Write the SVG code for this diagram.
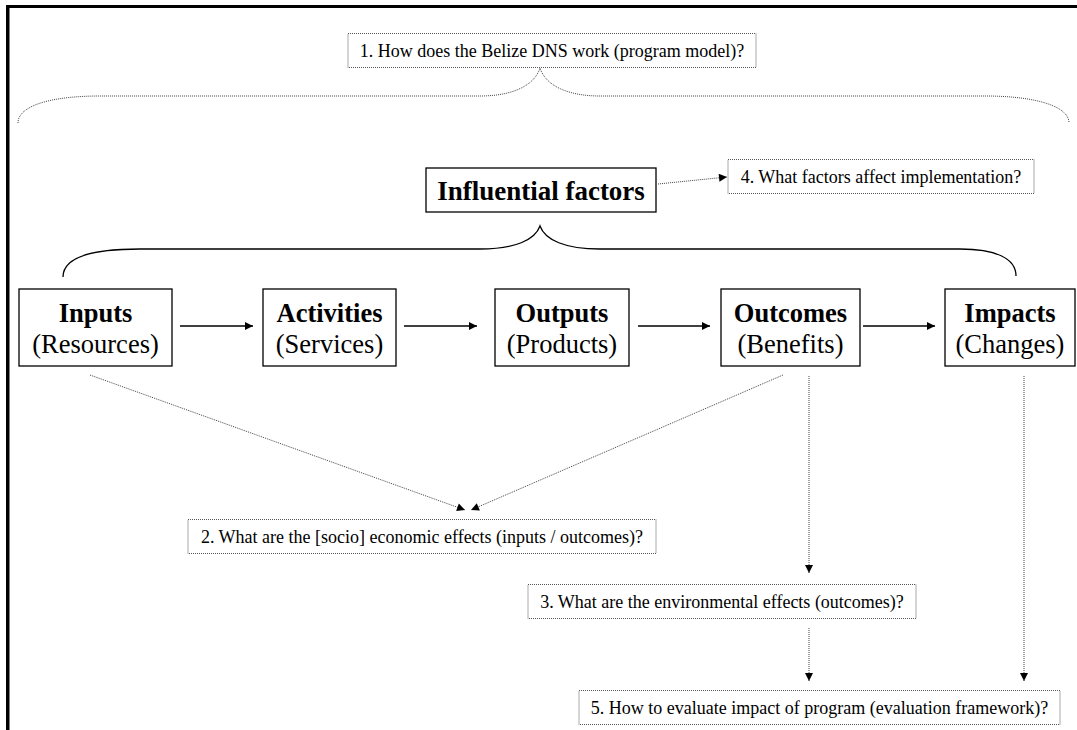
<svg xmlns="http://www.w3.org/2000/svg" width="1077" height="730" viewBox="0 0 1077 730">
<defs>
<style>
.box{fill:#fff;stroke:#000;stroke-width:1.3}
.qbox{fill:#fff;stroke:#555;stroke-width:1;stroke-dasharray:1 1}
.title{font-family:"Liberation Serif","Times New Roman",serif;font-size:26.5px;font-weight:bold;text-anchor:middle;fill:#000}
.sub{font-family:"Liberation Serif","Times New Roman",serif;font-size:26.5px;text-anchor:middle;fill:#000}
.q{font-family:"Liberation Serif","Times New Roman",serif;font-size:18px;text-anchor:middle;fill:#000}
.solid{fill:none;stroke:#000;stroke-width:1.3}
.dot{fill:none;stroke:#444;stroke-width:1;stroke-dasharray:1 1}
</style>
<marker id="ah" viewBox="0 0 10 10" refX="10" refY="5" markerUnits="userSpaceOnUse" markerWidth="9" markerHeight="8" orient="auto">
<path d="M0,0 L10,5 L0,10 Z" fill="#000"/>
</marker>
</defs>
<rect x="0" y="0" width="1077" height="730" fill="#fff"/>
<g id="frame">
<rect x="6" y="5" width="1071" height="3" fill="#000"/>
<rect x="6" y="5" width="3.5" height="725" fill="#000"/>
</g>
<g id="connectors">
<path class="dot" d="M18,123 C18,106 50,96 100,96 L480,96 C515,96 535,84 540,68 C545,84 565,96 600,96 L985,96 C1035,96 1069,106 1069,123"/>
<path class="solid" d="M63,277 C63,258 90,249 140,249 L480,249 C515,249 535,240 540,226 C545,240 565,249 600,249 L960,249 C995,249 1016,258 1016,276"/>
<line class="solid" x1="180" y1="326" x2="253" y2="326" marker-end="url(#ah)"/>
<line class="solid" x1="404" y1="326" x2="477" y2="326" marker-end="url(#ah)"/>
<line class="solid" x1="638" y1="326" x2="710" y2="326" marker-end="url(#ah)"/>
<line class="solid" x1="863" y1="326" x2="935" y2="326" marker-end="url(#ah)"/>
<line class="dot" x1="658" y1="184" x2="727" y2="177" marker-end="url(#ah)"/>
<line class="dot" x1="90" y1="375" x2="465" y2="510" marker-end="url(#ah)"/>
<line class="dot" x1="783" y1="375" x2="471" y2="510" marker-end="url(#ah)"/>
<line class="dot" x1="809" y1="376" x2="809" y2="573" marker-end="url(#ah)"/>
<line class="dot" x1="809" y1="628" x2="809" y2="681" marker-end="url(#ah)"/>
<line class="dot" x1="1024" y1="376" x2="1024" y2="681" marker-end="url(#ah)"/>
</g>
<g id="q1">
<rect class="qbox" x="348" y="33.5" width="408" height="34"/>
<text class="q" x="552" y="57">1. How does the Belize DNS work (program model)?</text>
</g>
<g id="influential">
<rect class="box" x="426" y="168" width="230" height="44"/>
<text class="title" x="541" y="200" style="font-size:27px">Influential factors</text>
</g>
<g id="q4">
<rect class="qbox" x="728" y="159.5" width="306" height="34"/>
<text class="q" x="881" y="183">4. What factors affect implementation?</text>
</g>
<g id="inputs">
<rect class="box" x="19" y="289" width="153" height="77"/>
<text class="title" x="95.5" y="322">Inputs</text>
<text class="sub" x="95.5" y="353">(Resources)</text>
</g>
<g id="activities">
<rect class="box" x="263" y="289" width="133" height="77"/>
<text class="title" x="329.5" y="322">Activities</text>
<text class="sub" x="329.5" y="353">(Services)</text>
</g>
<g id="outputs">
<rect class="box" x="495" y="289" width="134" height="77"/>
<text class="title" x="562" y="322">Outputs</text>
<text class="sub" x="562" y="353">(Products)</text>
</g>
<g id="outcomes">
<rect class="box" x="721" y="289" width="139" height="77"/>
<text class="title" x="790.5" y="322">Outcomes</text>
<text class="sub" x="790.5" y="353">(Benefits)</text>
</g>
<g id="impacts">
<rect class="box" x="945" y="289" width="130" height="77"/>
<text class="title" x="1010" y="322">Impacts</text>
<text class="sub" x="1010" y="353">(Changes)</text>
</g>
<g id="q2">
<rect class="qbox" x="188" y="519.5" width="468" height="34"/>
<text class="q" x="422" y="543">2. What are the [socio] economic effects (inputs / outcomes)?</text>
</g>
<g id="q3">
<rect class="qbox" x="528" y="584.5" width="388" height="34"/>
<text class="q" x="722" y="608">3. What are the environmental effects (outcomes)?</text>
</g>
<g id="q5">
<rect class="qbox" x="579" y="690.5" width="481" height="34"/>
<text class="q" x="819.5" y="714">5. How to evaluate impact of program (evaluation framework)?</text>
</g>
</svg>
